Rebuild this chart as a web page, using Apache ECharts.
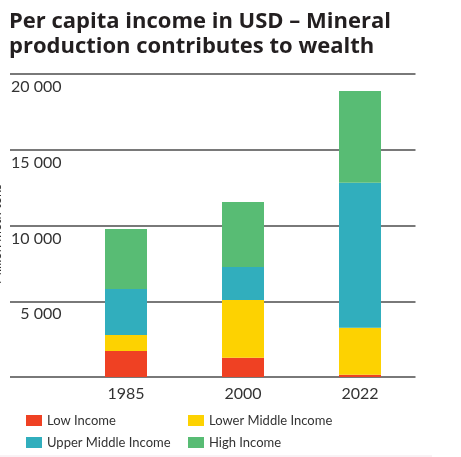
<!DOCTYPE html>
<html>
<head>
<meta charset="utf-8">
<script src="https://cdn.jsdelivr.net/npm/echarts@6/dist/echarts.min.js"></script>
<style>html,body{margin:0;padding:0;background:#fff;}#c{width:461px;height:457px;}</style>
</head>
<body>
<div id="c"></div>
<script>
const categories = ['1985', '2000', '2022'];
const lowIncome = [1720, 1270, 150];
const lowerMiddleIncome = [1050, 3810, 3100];
const upperMiddleIncome = [3040, 2180, 9580];
const highIncome = [3960, 4290, 6050];
const seriesNames = ['Low Income', 'Lower Middle Income', 'Upper Middle Income', 'High Income'];
const yTicks = [0, 5000, 10000, 15000, 20000];

const colors = ['#ef4123', '#fdd201', '#31aebd', '#58bc74'];
const values = [lowIncome, lowerMiddleIncome, upperMiddleIncome, highIncome];
const fam = 'Lato, "Open Sans", sans-serif';

const chart = echarts.init(document.getElementById('c'), null, {renderer: 'canvas'});
chart.setOption({
  animation: false,
  title: {
    text: 'Per capita income in USD – Mineral\nproduction contributes to wealth',
    left: 4, top: 4,
    textStyle: {fontFamily: '"Open Sans", Lato, sans-serif', fontSize: 22, fontWeight: 'bold', color: '#231f20', lineHeight: 25}
  },
  grid: [
    {left: 67.5, right: 42.5, top: 74, bottom: 80},
    {left: 10, right: 45.5, top: 74, bottom: 80}
  ],
  xAxis: [
    {type: 'category', gridIndex: 0, data: categories,
     axisLine: {show: false}, axisTick: {show: false},
     axisLabel: {fontFamily: fam, fontSize: 16, color: '#333', margin: 9}},
    {type: 'category', gridIndex: 1, data: categories, show: false}
  ],
  yAxis: [
    {type: 'value', gridIndex: 0, min: yTicks[0], max: yTicks[yTicks.length - 1], interval: 5000,
     splitLine: {show: false}, axisLine: {show: false}, axisTick: {show: false},
     axisLabel: {fontFamily: fam, fontSize: 16, color: '#333', margin: 6, verticalAlign: 'top', padding: [5, 0, 0, 0],
       formatter: v => (v === 0 ? '' : String(v).replace(/\B(?=(\d{3})+(?!\d))/g, ' '))}},
    {type: 'value', gridIndex: 1, min: yTicks[0], max: yTicks[yTicks.length - 1], interval: 5000,
     axisLine: {show: false}, axisTick: {show: false}, axisLabel: {show: false},
     splitLine: {show: true, lineStyle: {color: '#4d4d4d', width: 1.5}}}
  ],
  legend: [
    {orient: 'vertical', left: 21, top: 409, itemWidth: 16, itemHeight: 11, itemGap: 9,
     icon: 'rect', data: [seriesNames[0], seriesNames[2]],
     textStyle: {fontFamily: fam, fontSize: 13, color: '#333'}},
    {orient: 'vertical', left: 183, top: 409, itemWidth: 16, itemHeight: 11, itemGap: 9,
     icon: 'rect', data: [seriesNames[1], seriesNames[3]],
     textStyle: {fontFamily: fam, fontSize: 13, color: '#333'}}
  ],
  graphic: [
    {type: 'text', x: -3, y: 234, rotation: Math.PI / 2,
     style: {text: 'Million metr. tons', fontFamily: fam, fontSize: 13, fill: '#333', align: 'center', verticalAlign: 'middle'}},
    {type: 'line', shape: {x1: 0, y1: 456, x2: 432, y2: 456}, style: {stroke: '#f3e4ea', lineWidth: 1}}
  ],
  series: seriesNames.map((n, i) => ({
    name: n, type: 'bar', stack: 'total', xAxisIndex: 0, yAxisIndex: 0,
    barWidth: 42, z: 5, data: values[i], itemStyle: {color: colors[i]}
  }))
});
</script>
</body>
</html>
